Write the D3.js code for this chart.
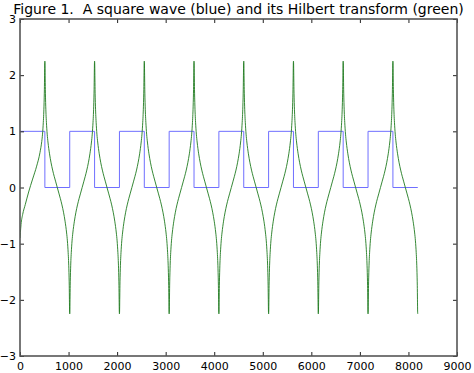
<!DOCTYPE html>
<html>
<head>
<meta charset="utf-8">
<script src="https://cdn.jsdelivr.net/npm/d3@7"></script>
<style>
  body { margin: 0; background: #fff; }
  svg { display: block; }
  text { font-family: "DejaVu Sans", sans-serif; fill: #000; }
</style>
</head>
<body>
<svg id="chart" width="474" height="373"></svg>
<script>
// square wave: level held from each x until the next one
var squareX = [0, 512, 1024, 1536, 2048, 2560, 3072, 3584, 4096, 4608, 5120, 5632, 6144, 6656, 7168, 7680, 8192];
var squareY = [1, 0, 1, 0, 1, 0, 1, 0, 1, 0, 1, 0, 1, 0, 1, 0, 0];

// hilbert transform, one period (offset from period start)
var periodStarts = [0, 1024, 2048, 3072, 4096, 5120, 6144, 7168];
var profileX = [0, 3, 6, 10, 16, 24, 32, 48, 64, 96, 128, 160, 192, 224, 256, 288, 320, 352, 384, 416, 448, 464, 480, 488, 496, 502, 506, 509, 512,
                515, 518, 522, 528, 536, 544, 560, 576, 608, 640, 672, 704, 736, 768, 800, 832, 864, 896, 928, 960, 976, 992, 1000, 1008, 1014, 1018, 1021, 1024];
var profileY = [-2.25, -2.2, -2.0, -1.74, -1.51, -1.3, -1.16, -0.95, -0.81, -0.6, -0.44, -0.31, -0.2, -0.1, 0, 0.1, 0.2, 0.31, 0.44, 0.6, 0.81, 0.95, 1.16, 1.3, 1.51, 1.74, 2.0, 2.2, 2.25,
                2.2, 2.0, 1.74, 1.51, 1.3, 1.16, 0.95, 0.81, 0.6, 0.44, 0.31, 0.2, 0.1, 0, -0.1, -0.2, -0.31, -0.44, -0.6, -0.81, -0.95, -1.16, -1.3, -1.51, -1.74, -2.0, -2.2, -2.25];
// the very first half period starts from about -0.9 instead of the spike
var startX = [0, 8, 21, 55, 110, 178, 260, 343, 411, 448];
var startY = [-0.9, -0.8, -0.66, -0.48, -0.3, -0.08, 0.15, 0.38, 0.62, 0.82];

var xTicks = [0, 1000, 2000, 3000, 4000, 5000, 6000, 7000, 8000, 9000];
var yTicks = [-3, -2, -1, 0, 1, 2, 3];
var title = "Figure 1.  A square wave (blue) and its Hilbert transform (green)";

var svg = d3.select("#chart"),
    mLeft = 20, mRight = 457, mTop = 19, mBottom = 356;

var x = d3.scaleLinear().domain([0, 9000]).range([mLeft, mRight]),
    y = d3.scaleLinear().domain([-3, 3]).range([mBottom, mTop]);

var fmt = function(d) { return d < 0 ? "\u2212" + Math.abs(d) : String(d); };

// build hilbert points
var hilbert = [];
startX.forEach(function(d, i) { hilbert.push([d, startY[i]]); });
periodStarts.forEach(function(p, k) {
    profileX.forEach(function(d, i) {
        if (k === 0 && d < 464) return;
        if (k > 0 && d === 0) return;
        hilbert.push([p + d, profileY[i]]);
    });
});

var square = squareX.map(function(d, i) { return [d, squareY[i]]; });

svg.append("defs").append("clipPath").attr("id", "plot")
    .append("rect").attr("x", mLeft).attr("y", mTop).attr("width", mRight - mLeft).attr("height", mBottom - mTop);

var plot = svg.append("g").attr("clip-path", "url(#plot)");

plot.append("path")
    .datum(square)
    .attr("fill", "none")
    .attr("stroke", "#6f6fff")
    .attr("stroke-width", 1)
    .attr("d", d3.line().curve(d3.curveStepAfter).x(function(d) { return x(d[0]); }).y(function(d) { return y(d[1]); }));

plot.append("path")
    .datum(hilbert)
    .attr("fill", "none")
    .attr("stroke", "#1f7a1f")
    .attr("stroke-width", 0.9)
    .attr("d", d3.line().curve(d3.curveMonotoneX).x(function(d) { return x(d[0]); }).y(function(d) { return y(d[1]); }));

// ticks on all four sides, pointing in
var tickLen = 4;
svg.append("g").call(d3.axisBottom(x).tickValues(xTicks).tickSize(-tickLen).tickPadding(6).tickFormat(fmt))
    .attr("transform", "translate(0," + mBottom + ")");
svg.append("g").call(d3.axisTop(x).tickValues(xTicks).tickSize(-tickLen).tickFormat(""))
    .attr("transform", "translate(0," + mTop + ")");
svg.append("g").call(d3.axisLeft(y).tickValues(yTicks).tickSize(-tickLen).tickPadding(4).tickFormat(fmt))
    .attr("transform", "translate(" + mLeft + ",0)");
svg.append("g").call(d3.axisRight(y).tickValues(yTicks).tickSize(-tickLen).tickFormat(""))
    .attr("transform", "translate(" + mRight + ",0)");

svg.selectAll(".domain").remove();
svg.selectAll(".tick line").attr("stroke", "#222").attr("stroke-width", 1);
svg.selectAll(".tick text").style("font-size", "11px").style("font-family", "DejaVu Sans");

svg.append("rect")
    .attr("x", mLeft).attr("y", mTop)
    .attr("width", mRight - mLeft).attr("height", mBottom - mTop)
    .attr("fill", "none").attr("stroke", "#555").attr("stroke-width", 1.6);

svg.append("text")
    .attr("x", (mLeft + mRight) / 2)
    .attr("y", 14)
    .attr("text-anchor", "middle")
    .style("font-size", "14px")
    .style("white-space", "pre")
    .text(title);
</script>
</body>
</html>
